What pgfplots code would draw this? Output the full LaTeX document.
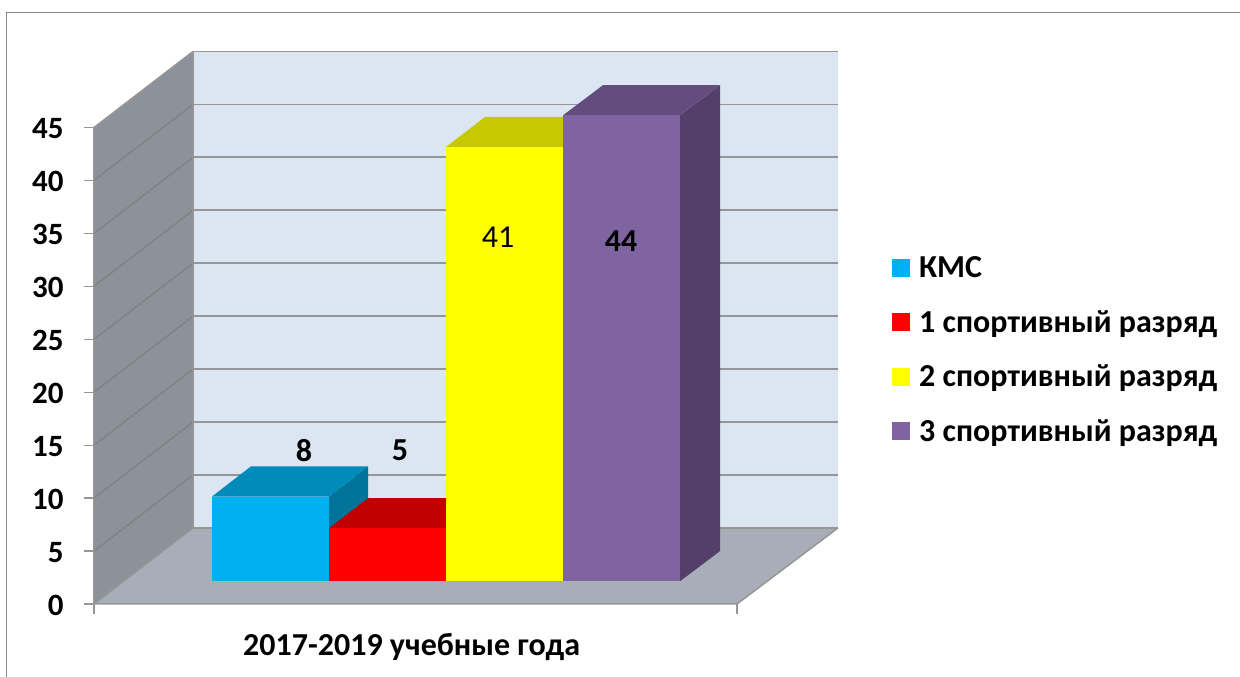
\documentclass[border=0pt]{standalone}
\usepackage{pgfplots}
\pgfplotsset{compat=1.18}
\usepackage{fontspec}
\setmainfont{Carlito}
\definecolor{wallback}{HTML}{DCE6F2}
\definecolor{wallleft}{HTML}{8C9299}
\definecolor{floorc}{HTML}{A8AEB8}
\definecolor{gridc}{HTML}{969696}
\definecolor{gridd}{HTML}{827E7C}
\definecolor{kms}{HTML}{00B0F0}
\definecolor{kmstop}{HTML}{008BBA}
\definecolor{kmsside}{HTML}{00739A}
\definecolor{r1}{HTML}{FF0000}
\definecolor{r1top}{HTML}{C00000}
\definecolor{r1side}{HTML}{A00000}
\definecolor{r2}{HTML}{FFFF00}
\definecolor{r2top}{HTML}{C8C800}
\definecolor{r2side}{HTML}{A8A800}
\definecolor{r3}{HTML}{8064A2}
\definecolor{r3top}{HTML}{644D7E}
\definecolor{r3side}{HTML}{533F69}
\pgfplotsset{
  poly/.style={fill=#1, draw=none, forget plot},
}
\tikzset{labfont/.style={font=\fontsize{32}{34}\selectfont\bfseries}}
\begin{document}
\begin{tikzpicture}[x=1pt,y=1pt]
\path[use as bounding box] (0,0) rectangle (1240,677);
\draw[gridc!90!black, line width=1.3pt] (6.5,0) -- (6.5,664.5) -- (1240,664.5);
\begin{axis}[
  at={(94pt,73pt)}, anchor=south west,
  scale only axis, width=643pt, height=476.5pt,
  xmin=94, xmax=737, ymin=0, ymax=45,
  clip=false, unbounded coords=jump,
  axis x line=bottom, axis y line=left,
  axis line style={-, draw=none},
  xtick={94,737}, xticklabels={}, 
  ytick={0,5,10,15,20,25,30,35,40,45},
  tick style={gridc, line width=1.3pt},
  tick align=outside, major tick length=10pt,
  /pgf/number format/assume math mode=true,
  tick label style={font=\fontsize{31}{33}\selectfont\bfseries},
  yticklabel style={xshift=-17pt, yshift=-1.5pt},
  xlabel={2017-2019 учебные года},
  xlabel style={labfont, at={(axis description cs:0.494,-0.09)}, anchor=center},
  legend style={at={(1.2364,0.734)}, anchor=north west, draw=none, fill=none,
    font=\fontsize{32}{34}\selectfont\bfseries, row sep=31.4pt,
    /tikz/every odd column/.append style={column sep=9pt},
    nodes={inner sep=0pt, anchor=west}},
  legend cell align=left,
  legend image code/.code={\fill[#1] (0pt,-9pt) rectangle (18pt,9pt);},
]
% walls and floor
\addplot[poly=wallleft] coordinates {(94,0)(193,7.18)(193,52.18)(94,45)};
\addplot[poly=floorc] coordinates {(94,0)(193,7.18)(838,7.18)(737,0)};
\addplot[poly=wallback] coordinates {(193,7.18)(838,7.18)(838,52.18)(193,52.18)};
% grid on the side wall and back wall
\addplot[gridd, line width=1.1pt, forget plot] coordinates {
  (94,5)(193,12.18)(nan,nan)(94,10)(193,17.18)(nan,nan)(94,15)(193,22.18)(nan,nan)
  (94,20)(193,27.18)(nan,nan)(94,25)(193,32.18)(nan,nan)(94,30)(193,37.18)(nan,nan)
  (94,35)(193,42.18)(nan,nan)(94,40)(193,47.18)};
\addplot[gridc, line width=1.8pt, forget plot] coordinates {
  (193,7.18)(838,7.18)(nan,nan)(193,12.18)(838,12.18)(nan,nan)(193,17.18)(838,17.18)(nan,nan)
  (193,22.18)(838,22.18)(nan,nan)(193,27.18)(838,27.18)(nan,nan)(193,32.18)(838,32.18)(nan,nan)
  (193,37.18)(838,37.18)(nan,nan)(193,42.18)(838,42.18)(nan,nan)(193,47.18)(838,47.18)(nan,nan)
  (193,52.18)(838,52.18)};
\addplot[gridc, line width=1.5pt, forget plot] coordinates {
  (94,45)(193,52.18)(nan,nan)(94,45)(94,0)(737,0)(838,7.18)(nan,nan)(94,0)(193,7.18)(193,52.18)};
% KMC, value 8
\addplot[poly=kmsside] coordinates {(329,10.15)(368,13)(368,5)(329,2.15)};
\addplot[poly=kmstop] coordinates {(212,10.15)(329,10.15)(368,13)(251,13)};
\addplot[fill=kms, draw=none] coordinates {(212,2.15)(329,2.15)(329,10.15)(212,10.15)};
\addlegendentry{КМС}
% 1st grade, value 5
\addplot[poly=r1side] coordinates {(446,7.15)(485,10)(485,5)(446,2.15)};
\addplot[poly=r1top] coordinates {(329,7.15)(446,7.15)(485,10)(368,10)};
\addplot[fill=r1, draw=none] coordinates {(329,2.15)(446,2.15)(446,7.15)(329,7.15)};
\addlegendentry{1 спортивный разряд}
% 2nd grade, value 41
\addplot[poly=r2side] coordinates {(563,43.15)(602,46)(602,5)(563,2.15)};
\addplot[poly=r2top] coordinates {(446,43.15)(563,43.15)(602,46)(485,46)};
\addplot[fill=r2, draw=none] coordinates {(446,2.15)(563,2.15)(563,43.15)(446,43.15)};
\addlegendentry{2 спортивный разряд}
% 3rd grade, value 44
\addplot[poly=r3side] coordinates {(680,46.15)(720,49)(720,5)(680,2.15)};
\addplot[poly=r3top] coordinates {(563,46.15)(680,46.15)(720,49)(603,49)};
\addplot[fill=r3, draw=none] coordinates {(563,2.15)(680,2.15)(680,46.15)(563,46.15)};
\addlegendentry{3 спортивный разряд}
% data labels
\node[labfont] at (axis cs:304,14.5) {8};
\node[labfont] at (axis cs:400,14.5) {5};
\node[font=\fontsize{32}{34}\selectfont] at (axis cs:498,34.6) {41};
\node[labfont] at (axis cs:621,34.3) {44};
\end{axis}
\end{tikzpicture}
\end{document}
